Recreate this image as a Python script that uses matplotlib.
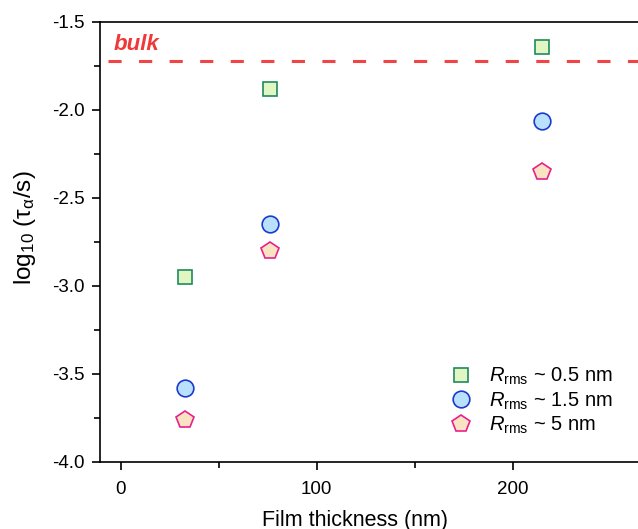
import matplotlib
matplotlib.use('Agg')
import matplotlib.pyplot as plt

plt.rcParams['font.family'] = ['Liberation Sans', 'DejaVu Sans']
plt.rcParams['mathtext.fontset'] = 'custom'
plt.rcParams['mathtext.rm'] = 'Liberation Sans'
plt.rcParams['mathtext.it'] = 'Liberation Sans:italic'
plt.rcParams['mathtext.sf'] = 'Liberation Sans'

# data
thickness = [33, 76, 215]
tau_05 = [-2.95, -1.88, -1.64]
tau_15 = [-3.58, -2.65, -2.06]
tau_5 = [-3.76, -2.80, -2.35]
bulk = -1.72
labels = [r'$\mathit{R}_{\mathrm{rms}}$ ~ 0.5 nm',
          r'$\mathit{R}_{\mathrm{rms}}$ ~ 1.5 nm',
          r'$\mathit{R}_{\mathrm{rms}}$ ~ 5 nm']

fig = plt.figure(figsize=(6.38, 5.29), dpi=100)
ax = fig.add_axes([100 / 638, 1 - 462 / 529, 1 - 100 / 638, 440 / 529])

ax.axhline(bulk, xmin=0.015, xmax=1, color='#f24444', lw=2.2, dashes=(4.3, 5.7))
ax.text(-3.5, bulk + 0.035, 'bulk', color='#f03838', fontsize=16,
        fontweight='bold', fontstyle='italic', va='bottom')

ax.plot(thickness, tau_05, ls='none', marker='s', ms=10.5,
        mfc='#e2f6c4', mec='#1f8a5c', mew=1.2, label=labels[0])
ax.plot(thickness, tau_15, ls='none', marker='o', ms=12,
        mfc='#b9e0fc', mec='#1a3ad0', mew=1.2, label=labels[1])
ax.plot(thickness, tau_5, ls='none', marker='p', ms=13,
        mfc='#f8e4c2', mec='#e8208c', mew=1.2, label=labels[2])

ax.set_xlim(-10.5, 264)
ax.set_ylim(-4.0, -1.5)
ax.set_xticks([0, 100, 200])
ax.set_xticks([50, 150], minor=True)
ax.set_yticks([-4.0, -3.5, -3.0, -2.5, -2.0, -1.5])
ax.set_yticklabels(['-4.0', '-3.5', '-3.0', '-2.5', '-2.0', '-1.5'])
ax.set_yticks([-3.75, -3.25, -2.75, -2.25, -1.75], minor=True)
ax.tick_params(which='both', direction='out', labelsize=13.5, width=1.2)
ax.tick_params(which='major', length=6)
ax.tick_params(which='minor', length=4)
ax.tick_params(axis='x', pad=8)
ax.tick_params(axis='y', pad=5)
ax.spines['right'].set_visible(False)
for s in ['left', 'bottom', 'top']:
    ax.spines[s].set_linewidth(1.2)

ax.set_xlabel('Film thickness (nm)', fontsize=15.5)
ax.xaxis.set_label_coords(0.474, -0.108)
ax.set_ylabel(r'log$_{10}$ (τ$_{\mathrm{α}}$/s)', fontsize=17.5)
ax.yaxis.set_label_coords(-0.115, 0.532)

ax.legend(loc='lower right', bbox_to_anchor=(0.968, 0.041), frameon=False,
          fontsize=14.5, handletextpad=0.6, handlelength=1.6,
          labelspacing=0.15, borderaxespad=0)

fig.savefig('out.png', dpi=100)
